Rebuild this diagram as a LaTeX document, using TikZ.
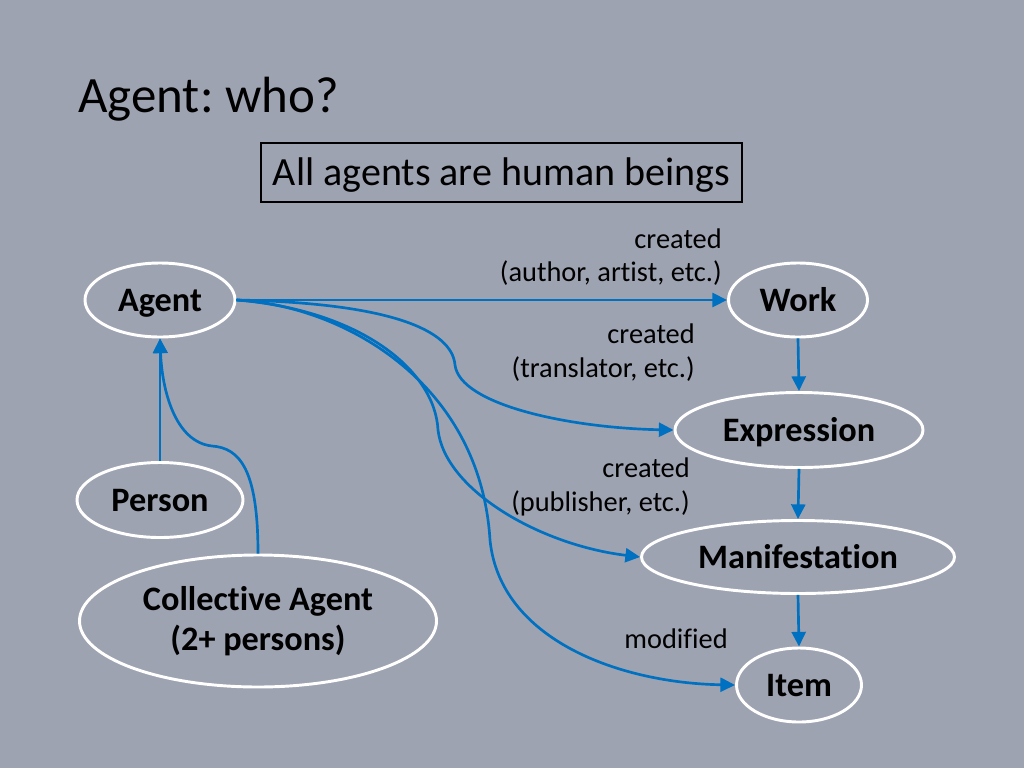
\documentclass[tikz,border=0pt]{standalone}
\usepackage{fontspec}
\setmainfont{Carlito}[Ligatures=NoCommon]
\frenchspacing
\usetikzlibrary{arrows.meta,shapes.geometric}
\definecolor{bgc}{RGB}{158,163,178}
\definecolor{arr}{RGB}{0,112,192}
\begin{document}
\begin{tikzpicture}[x=0.75pt,y=-0.75pt,
  ent/.style={ellipse, draw=white, line width=2.2pt, inner sep=0pt,
    font=\bfseries\fontsize{25.7}{30}\selectfont, align=center},
  one/.style={text height=16.6pt, text depth=0pt},
  lbl/.style={font=\fontsize{21.3}{25}\selectfont, inner sep=0pt},
  conn/.style={draw=arr, line width=2pt, -{Triangle[length=11pt,width=10.5pt]}}
]
\fill[bgc] (0,0) rectangle (1024,768);
\useasboundingbox (0,0) rectangle (1024,768);

\node[anchor=base west, inner sep=0pt, font=\fontsize{38.2}{44}\selectfont] (title) at (78,112) {Agent: who?};
\node[draw=black, line width=1.6pt, minimum width=360.75pt, minimum height=44.25pt, inner sep=0pt,
  font=\fontsize{30}{34}\selectfont, text height=19.6pt, text depth=0pt] (box) at (501.5,172.5) {All agents are human beings};

\node[ent, one, minimum width=112.5pt, minimum height=55.5pt] (agent) at (160,300) {Agent};
\node[ent, one, minimum width=104.25pt, minimum height=55.5pt] (work) at (798,300) {Work};
\node[ent, one, minimum width=186pt, minimum height=56.25pt] (expr) at (799,430) {Expression};
\node[ent, one, minimum width=234.75pt, minimum height=54.75pt] (manif) at (798,557) {Manifestation};
\node[ent, one, minimum width=93.75pt, minimum height=55.5pt] (item) at (799,685) {Item};
\node[ent, one, minimum width=124.5pt, minimum height=56.25pt] (person) at (160,500) {Person};
\node[ent, minimum width=267.75pt, minimum height=99pt] (coll) at (258,621) {Collective Agent\\(2+ persons)};

\node[lbl, anchor=base east] (l1a) at (722,248) {created};
\node[lbl, anchor=base east] (l1b) at (722,281) {(author, artist, etc.)};
\node[lbl, anchor=base east] (l2a) at (695,343) {created};
\node[lbl, anchor=base east] (l2b) at (695,377) {(translator, etc.)};
\node[lbl, anchor=base east] (l3a) at (690,477) {created};
\node[lbl, anchor=base east] (l3b) at (690,511) {(publisher, etc.)};
\node[lbl, anchor=base east] (l4) at (728,648) {modified};

\coordinate (ae) at (agent.east);
\draw[conn] (ae) -- (work.west);
\draw[conn] (ae) .. controls (390,303) and (452,330) .. (455,365)
  .. controls (460,405) and (570,428) .. (expr.west);
\draw[conn] (ae) .. controls (360,310) and (435,370) .. (438,430)
  .. controls (445,490) and (540,545) .. (manif.west);
\draw[conn] (ae) .. controls (340,305) and (480,380) .. (490,540)
  .. controls (500,640) and (620,683) .. (item.west);

\draw[conn] (work.south) -- (expr.north);
\draw[conn] (expr.south) -- (manif.north);
\draw[conn] (manif.south) -- (item.north);

\draw[conn] (person.north) -- (agent.south);
\draw[conn] (coll.north -| 258,0) .. controls (258,470) and (240,448) .. (212,446)
  .. controls (175,442) and (162,390) .. (agent.south);
\end{tikzpicture}
\end{document}
